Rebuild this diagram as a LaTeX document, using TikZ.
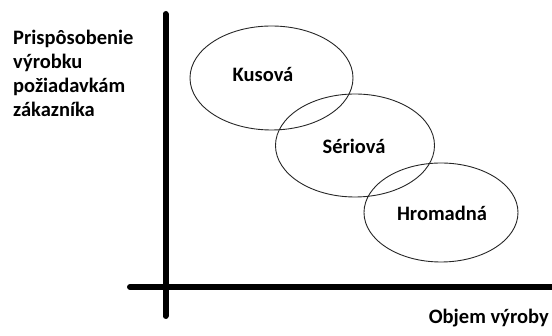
\documentclass[tikz,border=0pt]{standalone}
\usepackage{fontspec}
\setmainfont{Carlito}
\usetikzlibrary{shapes.geometric}
\begin{document}
\begin{tikzpicture}[x=1pt,y=-1pt,
  lbl/.style={font=\fontsize{20.5}{24.3}\selectfont\bfseries, inner sep=0pt},
  axis/.style={line width=6pt, line cap=round},
  oval/.style={draw=black!85, line width=0.9pt}]
\useasboundingbox (0,0) rectangle (552,336);
\coordinate (vtop) at (165.5,14);
\coordinate (vbot) at (165.5,316);
\coordinate (hl) at (130,287);
\coordinate (hr) at (560,287);
\draw[axis] (vtop) -- (vbot);
\draw[axis] (hl) -- (hr);
\draw[oval] (271.5,78) ellipse [x radius=81.5, y radius=52];
\draw[oval] (355,145.5) ellipse [x radius=79.5, y radius=51.5];
\draw[oval] (441,212.5) ellipse [x radius=77, y radius=49.5];
\node[lbl] (k) at (263,75) {Kusová};
\node[lbl] (s) at (354,146) {Sériová};
\node[lbl] (h) at (442,213) {Hromadná};
\node[lbl, anchor=base west, align=left] (y) at (13,117) {Prispôsobenie\\výrobku\\požiadavkám\\zákazníka};
\node[lbl, anchor=base east] (x) at (549,324) {Objem výroby};
\end{tikzpicture}
\end{document}
